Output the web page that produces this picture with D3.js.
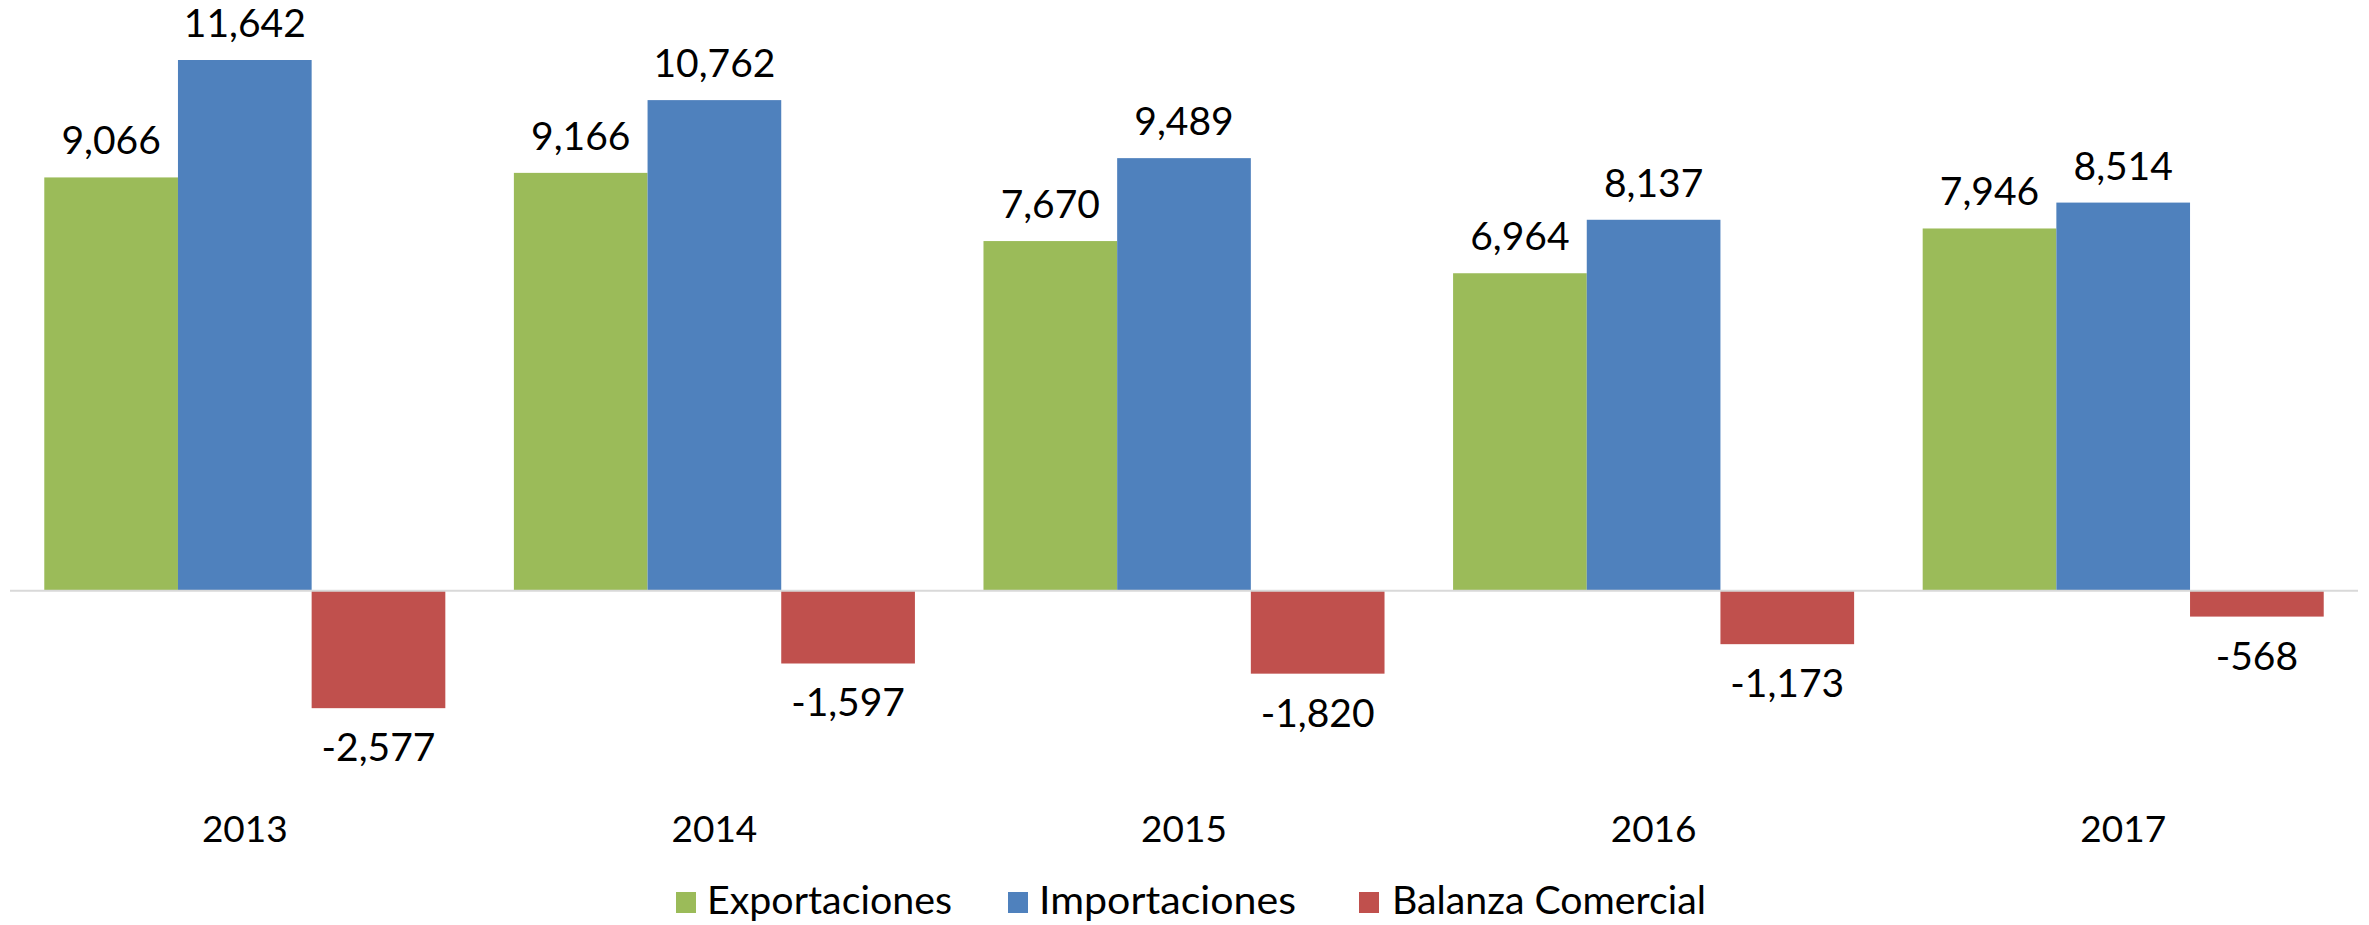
<!DOCTYPE html>
<html>
<head>
<meta charset="utf-8">
<script src="https://cdn.jsdelivr.net/npm/d3@7"></script>
<style>
  html, body { margin: 0; padding: 0; background: #ffffff; }
  svg { display: block; }
  text { font-family: Lato, "Open Sans", sans-serif; fill: #000; }
</style>
</head>
<body>
<svg id="chart" width="2369" height="925"></svg>
<script>
// ---- data ----
const years = ["2013", "2014", "2015", "2016", "2017"];
const seriesNames = ["Exportaciones", "Importaciones", "Balanza Comercial"];
const exportaciones = [9066, 9166, 7670, 6964, 7946];
const importaciones = [11642, 10762, 9489, 8137, 8514];
const balanza = [-2577, -1597, -1820, -1173, -568];
const seriesColors = ["#9BBB59", "#4F81BD", "#C0504D"];

const seriesValues = [exportaciones, importaciones, balanza];
const rows = years.map((yr, i) => ({
  year: yr,
  values: seriesNames.map((s, j) => ({ series: s, idx: j, value: seriesValues[j][i] }))
}));

const svg = d3.select("#chart");
const plotLeft = 10, plotRight = 2358;
const zeroY = 590.7, topY = 60;

const x0 = d3.scaleBand().domain(years).range([plotLeft, plotRight])
  .paddingInner(0.146).paddingOuter(0.073);
const x1 = d3.scaleBand().domain(seriesNames).range([0, x0.bandwidth()]).padding(0);
const y = d3.scaleLinear().domain([0, d3.max(importaciones)]).range([zeroY, topY]);
const color = d3.scaleOrdinal().domain(seriesNames).range(seriesColors);
const locale = d3.formatLocale({ decimal: ".", thousands: ",", grouping: [3], currency: ["$", ""], minus: "-" });
const fmt = locale.format(",");

const groups = svg.append("g").selectAll("g").data(rows).join("g")
  .attr("transform", d => `translate(${x0(d.year)},0)`);

groups.selectAll("rect").data(d => d.values).join("rect")
  .attr("x", d => x1(d.series))
  .attr("width", x1.bandwidth())
  .attr("y", d => d.value >= 0 ? y(d.value) : y(0))
  .attr("height", d => Math.abs(y(d.value) - y(0)))
  .attr("fill", d => color(d.series));

// zero axis line
svg.append("line")
  .attr("x1", plotLeft).attr("x2", plotRight)
  .attr("y1", y(0)).attr("y2", y(0))
  .attr("stroke", "#d9d9d9").attr("stroke-width", 2);

// data labels
groups.selectAll("text.lbl").data(d => d.values).join("text")
  .attr("class", "lbl")
  .attr("x", d => x1(d.series) + x1.bandwidth() / 2)
  .attr("y", d => d.value >= 0 ? y(d.value) - 23 : y(d.value) + 53)
  .attr("text-anchor", "middle")
  .style("font-size", "39px")
  .text(d => fmt(d.value));

// category axis labels
const xAxis = d3.axisBottom(x0).tickSize(0).tickPadding(0);
const ax = svg.append("g").attr("transform", `translate(0,${842})`).call(xAxis);
ax.select(".domain").remove();
ax.selectAll("text")
  .attr("dy", 0).attr("y", 0)
  .style("font-family", "Lato, 'Open Sans', sans-serif")
  .style("font-size", "37px").attr("fill", "#000");

// legend
const legendItems = [
  { name: seriesNames[0], sq: 676, tx: 707 },
  { name: seriesNames[1], sq: 1008, tx: 1039 },
  { name: seriesNames[2], sq: 1359, tx: 1392 }
];
const lg = svg.append("g");
lg.selectAll("rect").data(legendItems).join("rect")
  .attr("x", d => d.sq).attr("y", 892)
  .attr("width", 20).attr("height", 21)
  .attr("fill", d => color(d.name));
lg.selectAll("text").data(legendItems).join("text")
  .attr("x", d => d.tx).attr("y", 914)
  .attr("textLength", (d, i) => [245, 257, 314][i])
  .attr("lengthAdjust", "spacingAndGlyphs")
  .style("font-size", "39px")
  .text(d => d.name);
</script>
</body>
</html>
